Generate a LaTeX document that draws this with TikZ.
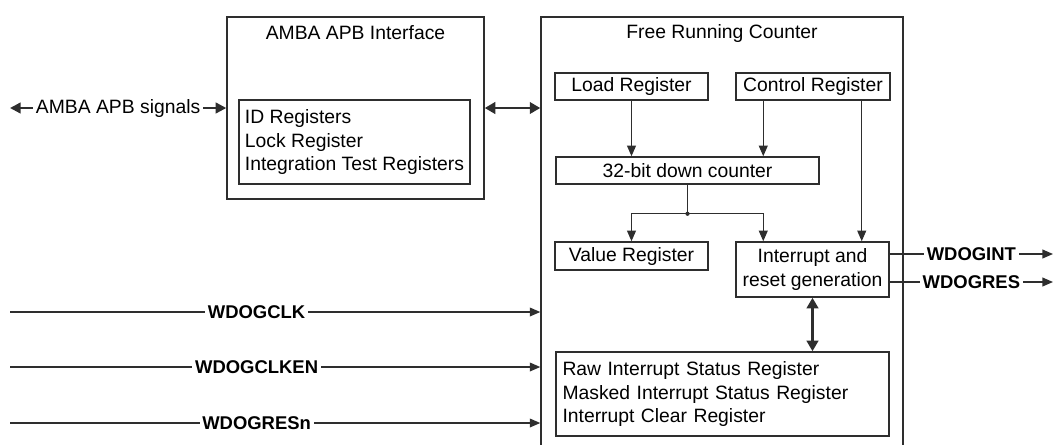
\documentclass[tikz,border=0pt]{standalone}
\usepackage{fontspec}
\setmainfont{Liberation Sans}
\usepackage{tikz}
\usetikzlibrary{arrows.meta,positioning}
\definecolor{edge}{HTML}{2E2E2E}

\begin{document}
\begin{tikzpicture}[x=0.02cm, y=-0.02cm,
    blk/.style={rectangle, draw=edge, line width=0.85pt, inner sep=0pt, font=\fontsize{11}{13.5}\selectfont},
    ttl/.style={font=\fontsize{11}{13.5}\selectfont},
    lbl/.style={fill=white, inner xsep=1.5pt, inner ysep=0pt, font=\fontsize{11}{13.5}\selectfont},
    sig/.style={fill=white, inner xsep=1.5pt, inner ysep=0pt, font=\fontsize{10.5}{12}\selectfont\bfseries},
    wire/.style={draw=edge, line width=0.75pt},
    arr/.style={wire, -{Triangle[length=6pt,width=5pt]}},
    apbarr/.style={draw=edge, line width=1.3pt, {Triangle[length=6pt,width=6pt]}-{Triangle[length=6pt,width=6pt]}},
    dbl/.style={draw=edge, line width=1.7pt, {Triangle[length=6pt,width=6.5pt]}-{Triangle[length=6pt,width=6.5pt]}}
]
    \path[use as bounding box, clip] (0,0) rectangle (1056,444);

    % Interface block
    \node[blk, minimum width=5.14cm, minimum height=3.64cm] (apb) at (355.5,108) {};
    \node[ttl] (apbtitle) at (355.5,33) {AMBA APB Interface};
    \node[blk, align=left, minimum width=4.62cm, minimum height=1.68cm] (apbregs) at (354.5,142) {ID Registers\\Lock Register\\Integration Test Registers};

    % Counter block
    \node[blk, minimum width=7.24cm, minimum height=9.06cm] (frc) at (722,243.5) {};
    \node[ttl] (frctitle) at (722,33) {Free Running Counter};
    \node[blk, minimum width=3.06cm, minimum height=0.54cm] (load) at (631.5,86.5) {Load Register};
    \node[blk, minimum width=3.08cm, minimum height=0.54cm] (ctrl) at (813,86.5) {Control Register};
    \node[blk, minimum width=5.26cm, minimum height=0.54cm] (counter) at (687.5,170.5) {32-bit down counter};
    \node[blk, minimum width=3.06cm, minimum height=0.56cm] (value) at (631.5,256) {Value Register};
    \node[blk, align=center, minimum width=3.06cm, minimum height=1.1cm] (intgen) at (812.5,269.5) {Interrupt and\\reset generation};
    \node[blk, align=left, text width=6.4cm, inner xsep=0.13cm, minimum height=1.68cm] (intregs) at (722.5,394) {Raw Interrupt Status Register\\Masked Interrupt Status Register\\Interrupt Clear Register};

    % Internal connections
    \coordinate (ctrlA) at ([xshift=0.56cm]ctrl.south west);
    \coordinate (ctrlB) at ([xshift=-0.58cm]ctrl.south east);
    \coordinate (split) at ([yshift=-0.58cm]counter.south);
    \draw[arr] (load) -- (load |- counter.north);
    \draw[arr] (ctrlA) -- (ctrlA |- counter.north);
    \draw[arr] (ctrlB) -- (ctrlB |- intgen.north);
    \draw[wire] (counter.south) -- (split);
    \draw[arr] (split) -| (value.north);
    \draw[arr] (split) -| (ctrlA |- intgen.north);
    \fill[edge] (split) circle (1.2pt);
    \draw[dbl] (intgen.south) -- (intgen.south |- intregs.north);
    \draw[dbl] (apb.east) -- (apb.east -| frc.west);

    % Outputs
    \coordinate (intout) at (1053,254);
    \coordinate (resout) at (1053,282);
    \draw[arr] (intout -| intgen.east) -- node[sig] (wdogint) {WDOGINT} (intout);
    \draw[arr] (resout -| intgen.east) -- node[sig] (wdogres) {WDOGRES} (resout);

    % Inputs
    \coordinate (apbin) at (10,108);
    \coordinate (clkin) at (10,312);
    \coordinate (clkenin) at (10,367);
    \coordinate (resnin) at (10,423);
    \draw[apbarr] (apbin) -- node[lbl] (apbsig) {AMBA APB signals} (apbin -| apb.west);
    \draw[arr] (clkin) -- node[sig, pos=0.465] (wdogclk) {WDOGCLK} (clkin -| frc.west);
    \draw[arr] (clkenin) -- node[sig, pos=0.465] (wdogclken) {WDOGCLKEN} (clkenin -| frc.west);
    \draw[arr] (resnin) -- node[sig, pos=0.465] (wdogresn) {WDOGRESn} (resnin -| frc.west);
\end{tikzpicture}
\end{document}
